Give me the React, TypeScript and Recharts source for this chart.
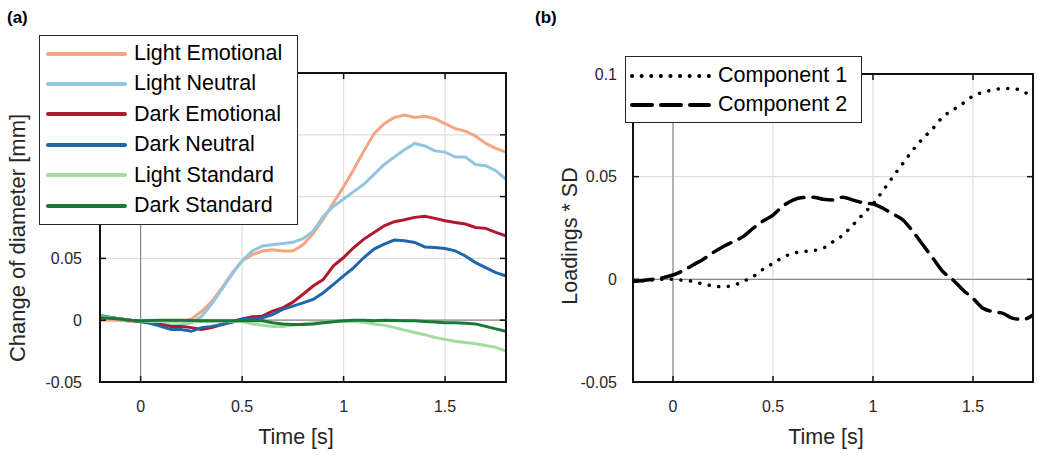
import React from "react"
import { LineChart, Line, XAxis, YAxis, CartesianGrid, ReferenceLine, Legend } from "recharts"

// time axis (s), shared by both panels
const time = [
  -0.2, -0.15, -0.1, -0.05, 0, 0.05, 0.1, 0.15, 0.2, 0.25, 0.3, 0.35, 0.4, 0.45, 0.5, 0.55, 0.6, 0.65, 0.7, 0.75,
  0.8, 0.85, 0.9, 0.95, 1.0, 1.05, 1.1, 1.15, 1.2, 1.25, 1.3, 1.35, 1.4, 1.45, 1.5, 1.55, 1.6, 1.65, 1.7, 1.75, 1.8,
]

// panel (a): change of pupil diameter [mm]
const lightEmotional = [
  0, 0, 0, -0.001, -0.001, -0.001, -0.001, -0.001, -0.001, 0.001, 0.007, 0.015, 0.026, 0.038, 0.048, 0.053, 0.056,
  0.057, 0.056, 0.056, 0.061, 0.07, 0.082, 0.095, 0.108, 0.122, 0.137, 0.151, 0.159, 0.164, 0.166, 0.164, 0.165,
  0.163, 0.159, 0.155, 0.153, 0.149, 0.143, 0.139, 0.136,
]
const lightNeutral = [
  0.003, 0.002, 0.001, 0, -0.001, -0.002, -0.003, -0.004, -0.004, -0.002, 0.003, 0.013, 0.025, 0.037, 0.048, 0.056,
  0.06, 0.061, 0.062, 0.063, 0.066, 0.072, 0.084, 0.092, 0.098, 0.104, 0.11, 0.118, 0.126, 0.132, 0.138, 0.143,
  0.141, 0.137, 0.136, 0.132, 0.132, 0.126, 0.125, 0.121, 0.114,
]
const darkEmotional = [
  0.003, 0.002, 0.001, 0, -0.001, -0.002, -0.0035, -0.005, -0.005, -0.006, -0.0075, -0.006, -0.0035, -0.001, 0.001,
  0.0027, 0.0033, 0.0073, 0.01, 0.0146, 0.021, 0.0276, 0.033, 0.044, 0.0507, 0.0588, 0.0656, 0.071, 0.0764, 0.0797,
  0.0813, 0.0832, 0.084, 0.0824, 0.0805, 0.0791, 0.0778, 0.075, 0.0743, 0.071, 0.0683,
]
const darkNeutral = [
  0.0038, 0.0025, 0.001, 0, -0.001, -0.0027, -0.005, -0.0076, -0.0076, -0.009, -0.006, -0.005, -0.0035, -0.0016,
  0.0005, 0.001, 0.002, 0.0046, 0.0087, 0.0114, 0.014, 0.0168, 0.0222, 0.029, 0.0358, 0.0425, 0.0507, 0.0575, 0.0615,
  0.0648, 0.0642, 0.0629, 0.0593, 0.0588, 0.058, 0.0561, 0.052, 0.0466, 0.0425, 0.0385, 0.0358,
]
const lightStandard = [
  0.003, 0.002, 0.001, 0, -0.0005, -0.001, -0.001, -0.0012, -0.0015, -0.0012, -0.001, -0.0008, -0.0005, -0.0008,
  -0.001, -0.003, -0.004, -0.005, -0.005, -0.004, -0.003, -0.002, -0.0016, -0.001, -0.001, -0.001, -0.0016, -0.003,
  -0.004, -0.006, -0.008, -0.01, -0.0117, -0.014, -0.0155, -0.017, -0.018, -0.019, -0.0205, -0.022, -0.025,
]
const darkStandard = [
  0.002, 0.0015, 0.001, 0, -0.0005, -0.0003, 0, 0, 0, -0.0003, -0.0005, -0.0005, -0.0005, -0.0004, -0.0003, -0.0004,
  -0.0005, -0.002, -0.003, -0.0035, -0.0035, -0.003, -0.002, -0.0012, -0.0005, 0, 0, -0.0005, 0, -0.0003, -0.0005,
  -0.0005, -0.001, -0.0015, -0.002, -0.002, -0.0025, -0.003, -0.005, -0.007, -0.009,
]

// panel (b): loadings * SD
const component1 = [
  -0.0011, -0.0007, -0.0003, 0, 0, -0.0005, -0.001, -0.0023, -0.0032, -0.0036, -0.003, -0.001, 0.0013, 0.0049, 0.0078,
  0.0107, 0.0127, 0.0135, 0.014, 0.0151, 0.0183, 0.0216, 0.0265, 0.0317, 0.0367, 0.0432, 0.05, 0.0565, 0.063, 0.0687,
  0.0735, 0.0792, 0.0825, 0.0857, 0.0893, 0.0911, 0.0922, 0.0929, 0.093, 0.0914, 0.089,
]
const component2 = [
  -0.0011, -0.0006, 0, 0.0008, 0.0021, 0.0042, 0.007, 0.0097, 0.013, 0.0159, 0.0183, 0.0208, 0.0248, 0.0284, 0.0313,
  0.0357, 0.0386, 0.0398, 0.04, 0.039, 0.0386, 0.04, 0.0386, 0.0373, 0.0367, 0.0346, 0.0318, 0.0289, 0.0232, 0.0167,
  0.0102, 0.0037, -0.0003, -0.0052, -0.0093, -0.0141, -0.0157, -0.0166, -0.019, -0.0195, -0.0174,
]

const xTicks = [0, 0.5, 1, 1.5]
const yTicksA = [-0.05, 0, 0.05, 0.1, 0.15, 0.2]
const yTicksB = [-0.05, 0, 0.05, 0.1]

const seriesA = [
  { key: "le", name: "Light Emotional", color: "#f4a582", values: lightEmotional },
  { key: "ln", name: "Light Neutral", color: "#92c5de", values: lightNeutral },
  { key: "de", name: "Dark Emotional", color: "#b2182b", values: darkEmotional },
  { key: "dn", name: "Dark Neutral", color: "#2166ac", values: darkNeutral },
  { key: "ls", name: "Light Standard", color: "#a6dba0", values: lightStandard },
  { key: "ds", name: "Dark Standard", color: "#1b7837", values: darkStandard },
]
const seriesB = [
  { key: "c1", name: "Component 1", color: "#000", dash: "0.1 9.5", values: component1 },
  { key: "c2", name: "Component 2", color: "#000", dash: "20 9", values: component2 },
]

const rowsA = time.map((t, i) => {
  const row: any = { t }
  seriesA.forEach((s) => (row[s.key] = s.values[i]))
  return row
})
const rowsB = time.map((t, i) => {
  const row: any = { t }
  seriesB.forEach((s) => (row[s.key] = s.values[i]))
  return row
})

const INK = "#262626"
const FRAME = "#111"

// plot boxes in chart coordinates (chart a at page x 0, chart b at page x 520)
const boxA = { left: 100, right: 506, top: 73, bottom: 382 }
const boxB = { left: 113, right: 513, top: 74, bottom: 382 }

// MATLAB style: label outside, small tick marks pointing in on both sides
const xTick = (box: any) => (p: any) => (
  <g>
    <line x1={p.x} x2={p.x} y1={box.bottom} y2={box.bottom - 6} stroke={FRAME} strokeWidth={1.5} />
    <line x1={p.x} x2={p.x} y1={box.top} y2={box.top + 6} stroke={FRAME} strokeWidth={1.5} />
    <text x={p.x} y={p.y} dy="0.71em" textAnchor="middle" fontSize={16} fill={INK}>
      {p.payload.value}
    </text>
  </g>
)
const yTick = (box: any) => (p: any) => (
  <g>
    <line x1={box.left} x2={box.left + 6} y1={p.y} y2={p.y} stroke={FRAME} strokeWidth={1.5} />
    <line x1={box.right} x2={box.right - 6} y1={p.y} y2={p.y} stroke={FRAME} strokeWidth={1.5} />
    <text x={p.x} y={p.y} dy="0.355em" textAnchor="end" fontSize={16} fill={INK}>
      {p.payload.value}
    </text>
  </g>
)

// rotated y title, x = baseline, y = centre (chart coordinates)
const yTitle = (text: string, x: number, y: number, size: number) => () => (
  <text x={x} y={y} transform={`rotate(-90 ${x} ${y})`} textAnchor="middle" fontSize={size} fill={INK}>
    {text}
  </text>
)
const xTitle = (text: string) => (props: any) => {
  const vb = props.viewBox
  return (
    <text x={vb.x + vb.width / 2 - 7} y={444} textAnchor="middle" fontSize={21.5} fill={INK}>
      {text}
    </text>
  )
}

function LegendBox({ items, rowH, padTop, padLeft, width, height, lineW }: any) {
  return (
    <div
      style={{
        width,
        height,
        boxSizing: "border-box",
        border: `1.5px solid ${INK}`,
        background: "#fff",
        paddingTop: padTop,
        paddingLeft: padLeft,
      }}
    >
      {items.map((s: any) => (
        <div key={s.key} style={{ height: rowH, display: "flex", alignItems: "center" }}>
          <svg width={81} height={10} style={{ flex: "none" }}>
            <line
              x1={2}
              x2={79}
              y1={5}
              y2={5}
              stroke={s.color}
              strokeWidth={lineW}
              strokeDasharray={s.dash}
              strokeLinecap="round"
            />
          </svg>
          <span style={{ marginLeft: 7, fontSize: 21.5, color: "#000", lineHeight: 1, whiteSpace: "nowrap" }}>
            {s.name}
          </span>
        </div>
      ))}
    </div>
  )
}

// axes box: four solid bars over the plot edges (under the legend)
function Frame({ box }: any) {
  const w = box.right - box.left
  const h = box.bottom - box.top
  const bar = (l: number, t: number, bw: number, bh: number) => ({
    position: "absolute" as const,
    left: l,
    top: t,
    width: bw,
    height: bh,
    background: FRAME,
    zIndex: 1,
    pointerEvents: "none" as const,
  })
  return (
    <>
      <div style={bar(box.left - 1, box.top - 1, w + 2, 2)} />
      <div style={bar(box.left - 1, box.bottom - 1, w + 2, 2)} />
      <div style={bar(box.left - 1, box.top - 1, 2, h + 2)} />
      <div style={bar(box.right - 1, box.top - 1, 2, h + 2)} />
    </>
  )
}

export default function App() {
  return (
    <div
      style={{
        position: "absolute",
        left: 0,
        top: 0,
        width: 1050,
        height: 457,
        background: "#fff",
        fontFamily: "'Liberation Sans', Arial, Helvetica, sans-serif",
      }}
    >
      <div style={{ position: "absolute", left: 7, top: 8, fontSize: 17, fontWeight: "bold", color: "#000" }}>(a)</div>
      <div style={{ position: "absolute", left: 535, top: 8, fontSize: 17, fontWeight: "bold", color: "#000" }}>(b)</div>

      {/* Panel (a) */}
      <div style={{ position: "absolute", left: 0, top: 0, width: 520, height: 457 }}>
        <LineChart
          width={520}
          height={457}
          data={rowsA}
          margin={{ top: boxA.top, right: 520 - boxA.right, bottom: 0, left: 0 }}
        >
          <CartesianGrid stroke="#dedede" strokeWidth={1.2} />
          <ReferenceLine x={0} stroke="#8a8a8a" strokeWidth={1.2} />
          <ReferenceLine y={0} stroke="#8a8a8a" strokeWidth={1.2} />
          <XAxis
            dataKey="t"
            type="number"
            domain={[-0.2, 1.8]}
            ticks={xTicks}
            allowDataOverflow
            height={457 - boxA.bottom}
            tickSize={0}
            tickMargin={19}
            tickLine={false}
            axisLine={false}
            tick={xTick(boxA)}
            label={{ content: xTitle("Time [s]") }}
          />
          <YAxis
            type="number"
            domain={[-0.05, 0.2]}
            ticks={yTicksA}
            allowDataOverflow
            width={boxA.left}
            tickSize={0}
            tickMargin={18}
            tickLine={false}
            axisLine={false}
            tick={yTick(boxA)}
            label={{ content: yTitle("Change of diameter [mm]", 25, 238, 22) }}
          />
          {seriesA.map((s) => (
            <Line
              key={s.key}
              dataKey={s.key}
              name={s.name}
              type="linear"
              stroke={s.color}
              strokeWidth={3}
              dot={false}
              isAnimationActive={false}
            />
          ))}
          <Legend
            layout="vertical"
            align="center"
            verticalAlign="middle"
            wrapperStyle={{ left: 39, top: 35, width: 259, height: 190, zIndex: 2 }}
            content={() => (
              <LegendBox items={seriesA} rowH={30.4} padTop={2.5} padLeft={6} width={259} height={190} lineW={4} />
            )}
          />
        </LineChart>
        <Frame box={boxA} />
      </div>

      {/* Panel (b) */}
      <div style={{ position: "absolute", left: 520, top: 0, width: 530, height: 457 }}>
        <LineChart
          width={530}
          height={457}
          data={rowsB}
          margin={{ top: boxB.top, right: 530 - boxB.right, bottom: 0, left: 0 }}
        >
          <CartesianGrid stroke="#dedede" strokeWidth={1.2} />
          <ReferenceLine x={0} stroke="#8a8a8a" strokeWidth={1.2} />
          <ReferenceLine y={0} stroke="#8a8a8a" strokeWidth={1.2} />
          <XAxis
            dataKey="t"
            type="number"
            domain={[-0.2, 1.8]}
            ticks={xTicks}
            allowDataOverflow
            height={457 - boxB.bottom}
            tickSize={0}
            tickMargin={19}
            tickLine={false}
            axisLine={false}
            tick={xTick(boxB)}
            label={{ content: xTitle("Time [s]") }}
          />
          <YAxis
            type="number"
            domain={[-0.05, 0.1]}
            ticks={yTicksB}
            allowDataOverflow
            width={boxB.left}
            tickSize={0}
            tickMargin={16}
            tickLine={false}
            axisLine={false}
            tick={yTick(boxB)}
            label={{ content: yTitle("Loadings * SD", 57, 236, 21.5) }}
          />
          {seriesB.map((s) => (
            <Line
              key={s.key}
              dataKey={s.key}
              name={s.name}
              type="monotone"
              stroke={s.color}
              strokeWidth={3.5}
              strokeDasharray={s.dash}
              strokeLinecap="round"
              dot={false}
              isAnimationActive={false}
            />
          ))}
          <Legend
            layout="vertical"
            align="center"
            verticalAlign="middle"
            wrapperStyle={{ left: 105, top: 56, width: 237, height: 67, zIndex: 2 }}
            content={() => (
              <LegendBox items={seriesB} rowH={29} padTop={4} padLeft={4} width={237} height={67} lineW={4} />
            )}
          />
        </LineChart>
        <Frame box={boxB} />
      </div>
    </div>
  )
}
